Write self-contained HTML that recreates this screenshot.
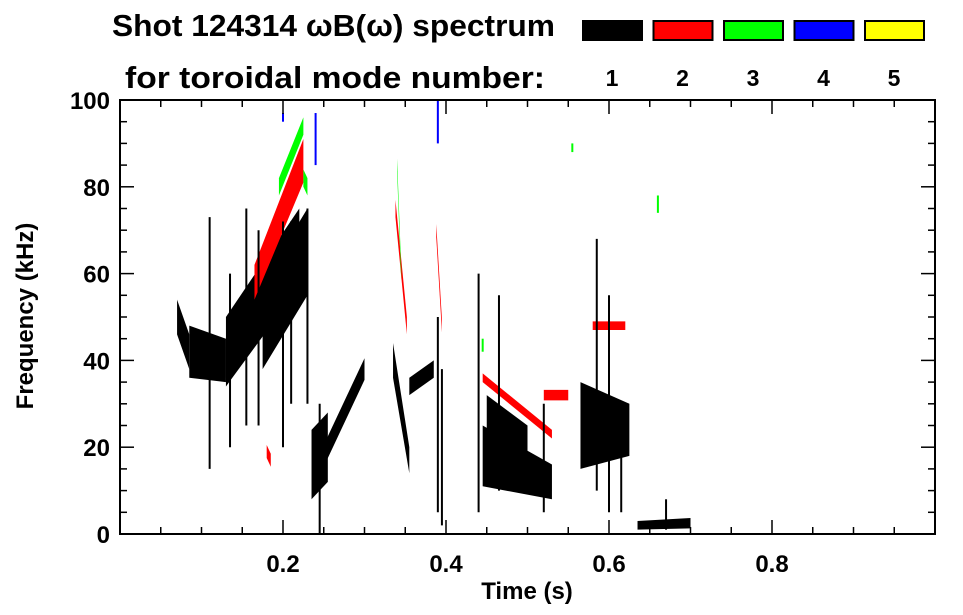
<!DOCTYPE html>
<html><head><meta charset="utf-8"><style>
html,body{margin:0;padding:0;background:#fff;}
svg{display:block;font-family:"Liberation Sans",sans-serif;font-weight:bold;}
</style></head><body>
<svg id="chart" width="963" height="615" viewBox="0 0 963 615">
<text x="112" y="36" font-size="31" textLength="443" lengthAdjust="spacingAndGlyphs">Shot 124314 ωB(ω) spectrum</text>
<text x="125" y="88" font-size="31" textLength="420" lengthAdjust="spacingAndGlyphs">for toroidal mode number:</text>
<g id="legend"></g>
<g id="marks"></g>
<g id="axes"></g>
<text x="527" y="599" font-size="24" text-anchor="middle">Time (s)</text>
<text transform="translate(33,316) rotate(-90)" font-size="24" text-anchor="middle">Frequency (kHz)</text>
</svg>
<script>
const modeLabels=["1","2","3","4","5"];
const modeColors=["#000","#f00","#0f0","#00f","#ff0"];
const xTicks=[0.2,0.4,0.6,0.8];
const yTicks=[0,20,40,60,80,100];
// ridge segments
const rT0=[0.07,0.085,0.13,0.175,0.235,0.25,0.335,0.355,0.445,0.45,0.565,0.635, 0.165,0.338,0.388,0.445,0.52,0.58,0.18, 0.195,0.34,0.225];
const rT1=[0.085,0.13,0.22,0.23,0.255,0.30,0.355,0.385,0.53,0.50,0.625,0.70, 0.225,0.352,0.395,0.53,0.55,0.62,0.185, 0.225,0.345,0.23];
const rF0=[50,42,42,48,16,18,40,34,18,28,25,2, 58,75,70,36,32,48,19, 80,85,82];
const rF1=[42,40,66,65,20,38,17,38,12,22,24,2.5, 86,48,48,23,32,48,17, 94,60,80];
const rW0=[4,6,8,10,8,2.5,4,2,7,4,10,1, 4,2,1.5,1,1.2,1,1.5, 2,1.5,2];
const rW1=[4,5,9,10,8,2.5,3,2,4,3,6,1.2, 5,2,1.5,1,1.2,1,1.5, 2,1.5,2];
const rMode=[0,0,0,0,0,0,0,0,0,0,0,0, 1,1,1,1,1,1,1, 2,2,2];
// vertical streaks
const sT=[0.11,0.135,0.155,0.17,0.2,0.21,0.23,0.245,0.39,0.395,0.44,0.465,0.52,0.585,0.6,0.615,0.67, 0.24,0.39,0.2, 0.445,0.555,0.66];
const sF0=[15,20,25,25,20,30,30,0,5,2,5,10,5,10,5,5,1, 85,90,95, 42,88,74];
const sF1=[73,60,75,70,72,72,75,30,50,38,60,55,30,68,55,30,8, 97,100,97, 45,90,78];
const sMode=[0,0,0,0,0,0,0,0,0,0,0,0,0,0,0,0,0, 3,3,3, 2,2,2];

const NS="http://www.w3.org/2000/svg";
const X0=120,X1=935,Y0=534,Y1=100;
const xs=t=>X0+t*(X1-X0);
const ys=f=>Y0-f/100*(Y0-Y1);
function mk(tag,parent,attrs){const e=document.createElementNS(NS,tag);for(const k in attrs)e.setAttribute(k,attrs[k]);parent.appendChild(e);return e;}

const marks=document.getElementById('marks');
for(let i=0;i<rT0.length;i++){
  const pts=[[xs(rT0[i]),ys(rF0[i]+rW0[i])],[xs(rT1[i]),ys(rF1[i]+rW1[i])],[xs(rT1[i]),ys(rF1[i]-rW1[i])],[xs(rT0[i]),ys(rF0[i]-rW0[i])]];
  const p=mk('polygon',marks,{points:pts.map(p=>p.join(',')).join(' '),fill:modeColors[rMode[i]]});
  
  
}
for(let i=0;i<sT.length;i++){
  const l=mk('line',marks,{x1:xs(sT[i]),x2:xs(sT[i]),y1:ys(sF0[i]),y2:ys(sF1[i]),stroke:modeColors[sMode[i]],'stroke-width':2});
  
  
}

const axes=document.getElementById('axes');
mk('rect',axes,{x:X0,y:Y1,width:X1-X0,height:Y0-Y1,fill:'none',stroke:'#000','stroke-width':2});
for(let t=0.05;t<1;t+=0.05){
  const maj=Math.abs(t*5-Math.round(t*5))<1e-6;const L=maj?14:7;
  mk('line',axes,{x1:xs(t),x2:xs(t),y1:Y0,y2:Y0-L,stroke:'#000','stroke-width':1.5});
  mk('line',axes,{x1:xs(t),x2:xs(t),y1:Y1,y2:Y1+L,stroke:'#000','stroke-width':1.5});
}
for(let f=5;f<100;f+=5){
  const L=(f%20===0)?14:7;
  mk('line',axes,{x1:X0,x2:X0+L,y1:ys(f),y2:ys(f),stroke:'#000','stroke-width':1.5});
  mk('line',axes,{x1:X1,x2:X1-L,y1:ys(f),y2:ys(f),stroke:'#000','stroke-width':1.5});
}
xTicks.forEach(t=>{const e=mk('text',axes,{x:xs(t),y:572,'font-size':24,'text-anchor':'middle'});e.textContent=t.toFixed(1);
  
  });
yTicks.forEach(f=>{const e=mk('text',axes,{x:110,y:ys(f)+9,'font-size':24,'text-anchor':'end'});e.textContent=f;
  
  });

const legend=document.getElementById('legend');
modeLabels.forEach((m,i)=>{
  const x=582+i*70.5;
  const r=mk('rect',legend,{x:x+1,y:21,width:59,height:19,fill:modeColors[i],stroke:'#000','stroke-width':2});
  
  
  const t=mk('text',legend,{x:x+30,y:86,'font-size':23,'text-anchor':'middle'});t.textContent=m;
  
  
});
</script>
</body></html>
